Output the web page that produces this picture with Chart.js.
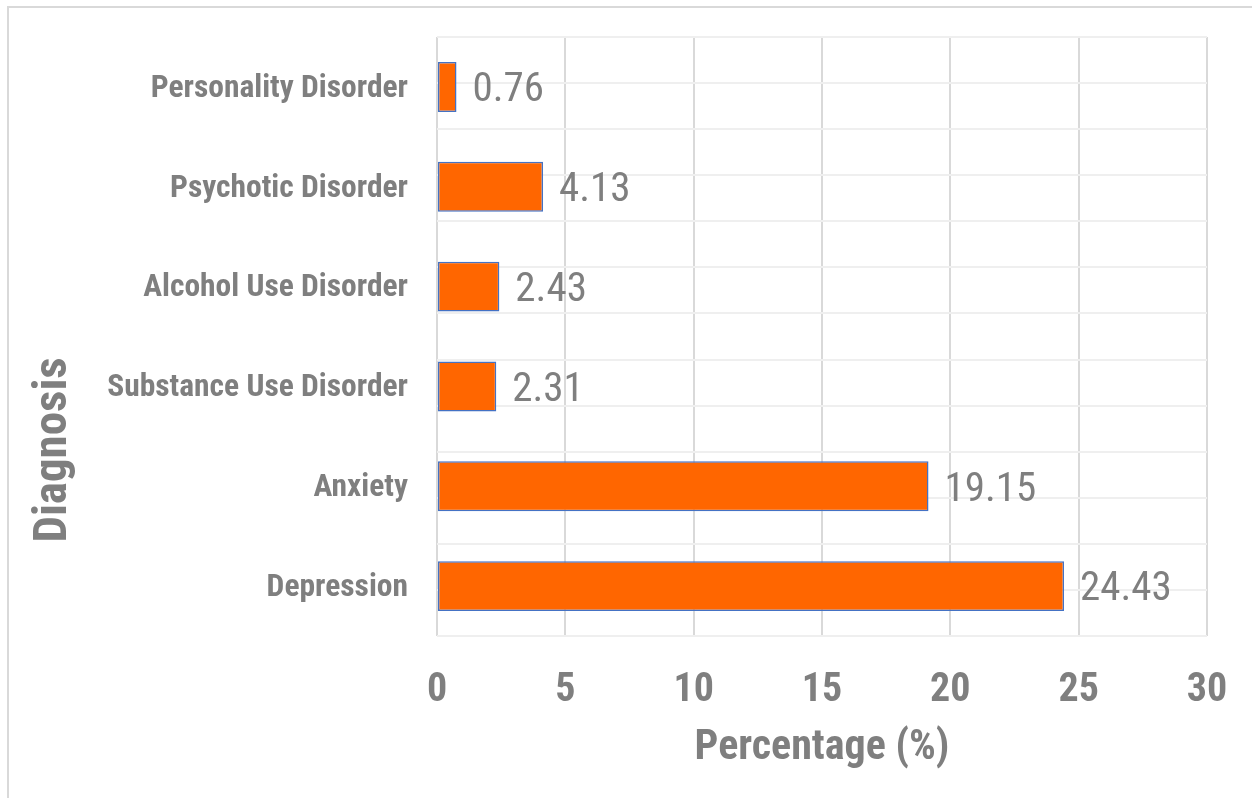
<!DOCTYPE html>
<html>
<head>
<meta charset="utf-8">
<script src="https://cdn.jsdelivr.net/npm/chart.js@4"></script>
<style>
  body { margin: 0; background: #fff; }
  #frame { position: absolute; left: 7px; top: 6px; width: 1270px; height: 820px; border: 2px solid #d9d9d9; }
  #wrap { position: absolute; left: 0; top: 0; width: 1252px; height: 798px; }
</style>
</head>
<body>
<div id="frame"></div>
<div id="wrap"><canvas id="myChart"></canvas></div>
<script>
const categories = ['Personality Disorder', 'Psychotic Disorder', 'Alcohol Use Disorder', 'Substance Use Disorder', 'Anxiety', 'Depression'];
const percentages = [0.76, 4.13, 2.43, 2.31, 19.15, 24.43];
const xTicks = [0, 5, 10, 15, 20, 25, 30];

const FONT = '"Roboto Condensed", "Liberation Sans Narrow", "Arial Narrow", sans-serif';
const GREY = '#7f7f7f';

function noPadding(scale) {
  scale.paddingTop = 0;
  scale.paddingBottom = 0;
  scale.paddingLeft = 0;
  scale.paddingRight = 0;
}

// value labels to the right of each bar
const valueLabels = {
  id: 'valueLabels',
  afterDatasetsDraw(chart) {
    const ctx = chart.ctx;
    const meta = chart.getDatasetMeta(0);
    ctx.save();
    ctx.font = '41px ' + FONT;
    ctx.fillStyle = GREY;
    ctx.textAlign = 'left';
    ctx.textBaseline = 'middle';
    meta.data.forEach((bar, i) => {
      ctx.fillText(percentages[i].toFixed(2), bar.x + 16, bar.y + 4);
    });
    ctx.restore();
  }
};

// rotated y axis title, sits lower than the plot centre like the original
const yTitle = {
  id: 'yTitle',
  afterDraw(chart) {
    const ctx = chart.ctx;
    ctx.save();
    ctx.translate(66, 450);
    ctx.rotate(-Math.PI / 2);
    ctx.font = 'bold 47px ' + FONT;
    ctx.fillStyle = GREY;
    ctx.textAlign = 'center';
    ctx.textBaseline = 'alphabetic';
    ctx.fillText('Diagnosis', 0, 0);
    ctx.restore();
  }
};

const ctx = document.getElementById('myChart').getContext('2d');
const myChart = new Chart(ctx, {
  type: 'bar',
  data: {
    labels: categories,
    datasets: [{
      label: 'Percentage (%)',
      data: percentages,
      backgroundColor: '#ff6600',
      borderColor: '#4472c4',
      borderWidth: 1.5,
      borderSkipped: false,
      barPercentage: 0.5,
      categoryPercentage: 1.0,
    }]
  },
  options: {
    indexAxis: 'y',
    responsive: true,
    maintainAspectRatio: false,
    animation: false,
    layout: { padding: { top: 37, right: 45, left: 0, bottom: 0 } },
    plugins: {
      legend: { display: false },
      tooltip: { enabled: false }
    },
    scales: {
      x: {
        type: 'linear',
        min: xTicks[0],
        max: xTicks[xTicks.length - 1],
        afterBuildTicks: (scale) => { scale.ticks = xTicks.map(v => ({ value: v })); },
        afterFit: (scale) => { scale.height = 162; noPadding(scale); },
        grid: { color: '#d9d9d9', lineWidth: 2, drawTicks: false },
        border: { display: false },
        ticks: { color: GREY, font: { family: FONT, size: 40, weight: 'bold' }, padding: 31 },
        title: {
          display: true,
          text: 'Percentage (%)',
          color: GREY,
          font: { family: FONT, size: 42, weight: 'bold' },
          padding: { top: 0, bottom: 24 }
        }
      },
      y: {
        type: 'category',
        afterFit: (scale) => { scale.width = 437; noPadding(scale); },
        grid: { display: false, drawTicks: false },
        border: { display: false },
        ticks: { color: GREY, font: { family: FONT, size: 31.5, weight: 'bold' }, padding: 29, labelOffset: 2 }
      },
      yGrid: {
        type: 'linear',
        position: 'right',
        min: 0,
        max: 12,
        afterFit: (scale) => { scale.width = 0; noPadding(scale); },
        ticks: { display: false, stepSize: 1 },
        grid: { color: '#efefef', lineWidth: 2, drawTicks: false },
        border: { display: false }
      }
    }
  },
  plugins: [valueLabels, yTitle]
});
</script>
</body>
</html>
